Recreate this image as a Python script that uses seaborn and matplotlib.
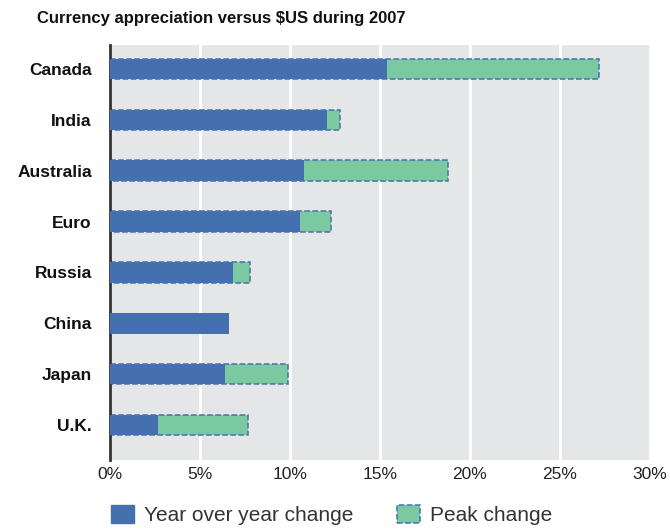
import pandas as pd
import numpy as np
import matplotlib.pyplot as plt
import seaborn as sns
from matplotlib.patches import Patch
from matplotlib.ticker import FuncFormatter

# ─── Data ──────────────────────────────────────────────────
countries = ['Canada', 'India', 'Australia', 'Euro', 'Russia', 'China', 'Japan', 'U.K.']
yoy_change = [15.4, 12.05, 10.8, 10.55, 6.85, 6.6, 6.4, 2.7]
peak_change = [27.2, 12.8, 18.8, 12.3, 7.8, np.nan, 9.9, 7.65]
x_ticks = [0, 5, 10, 15, 20, 25, 30]

df = pd.DataFrame({'country': countries, 'yoy': yoy_change, 'peak': peak_change})

BLUE = '#4570AF'
GREEN = '#7BC9A1'
BG = '#E5E6E8'

sns.set_style('white')
plt.rcParams['font.family'] = ['Liberation Sans', 'DejaVu Sans']

fig = plt.figure(figsize=(6.7, 5.29), dpi=100)
ax = fig.add_axes([0.164, 0.130, 0.806, 0.785])
ax.set_facecolor(BG)

# Peak bars underneath (dashed outline), year-over-year on top
sns.barplot(data=df, x='peak', y='country', orient='h', color=GREEN,
            width=0.4, edgecolor=BLUE, linewidth=1.1, linestyle='--',
            saturation=1, ax=ax, zorder=2)
sns.barplot(data=df, x='yoy', y='country', orient='h', color=BLUE,
            width=0.4, linewidth=0, saturation=1, ax=ax, zorder=3)

ax.set_xlim(0, 30)
ax.set_ylim(7.69, -0.47)
ax.set_xticks(x_ticks)
ax.xaxis.set_major_formatter(FuncFormatter(lambda v, p: f'{v:.0f}%'))
ax.grid(axis='x', color='white', linewidth=2, zorder=1)
ax.set_axisbelow(True)
ax.set_xlabel('')
ax.set_ylabel('')

for side in ['top', 'right', 'bottom']:
    ax.spines[side].set_visible(False)
ax.spines['left'].set_color('#333333')
ax.spines['left'].set_linewidth(2)

ax.tick_params(axis='x', length=0, labelsize=12.5, colors='#222222', pad=5)
ax.tick_params(axis='y', length=0, labelsize=12.5, pad=13)
for lbl in ax.get_yticklabels():
    lbl.set_fontweight('bold')
    lbl.set_color('#111111')

fig.text(0.055, 0.965, 'Currency appreciation versus $US during 2007',
         fontsize=12, fontweight='bold', color='#111111', va='center')

handles = [Patch(facecolor=BLUE, edgecolor=BLUE),
           Patch(facecolor=GREEN, edgecolor=BLUE, linestyle='--', linewidth=1.1)]
fig.legend(handles, ['Year over year change', 'Peak change'],
           loc='center', bbox_to_anchor=(0.495, 0.026), ncol=2, frameon=False,
           fontsize=15, handlelength=1.1, handleheight=0.95, columnspacing=2.1,
           handletextpad=0.5, labelcolor='#333333')

plt.savefig('out.png', dpi=100)
